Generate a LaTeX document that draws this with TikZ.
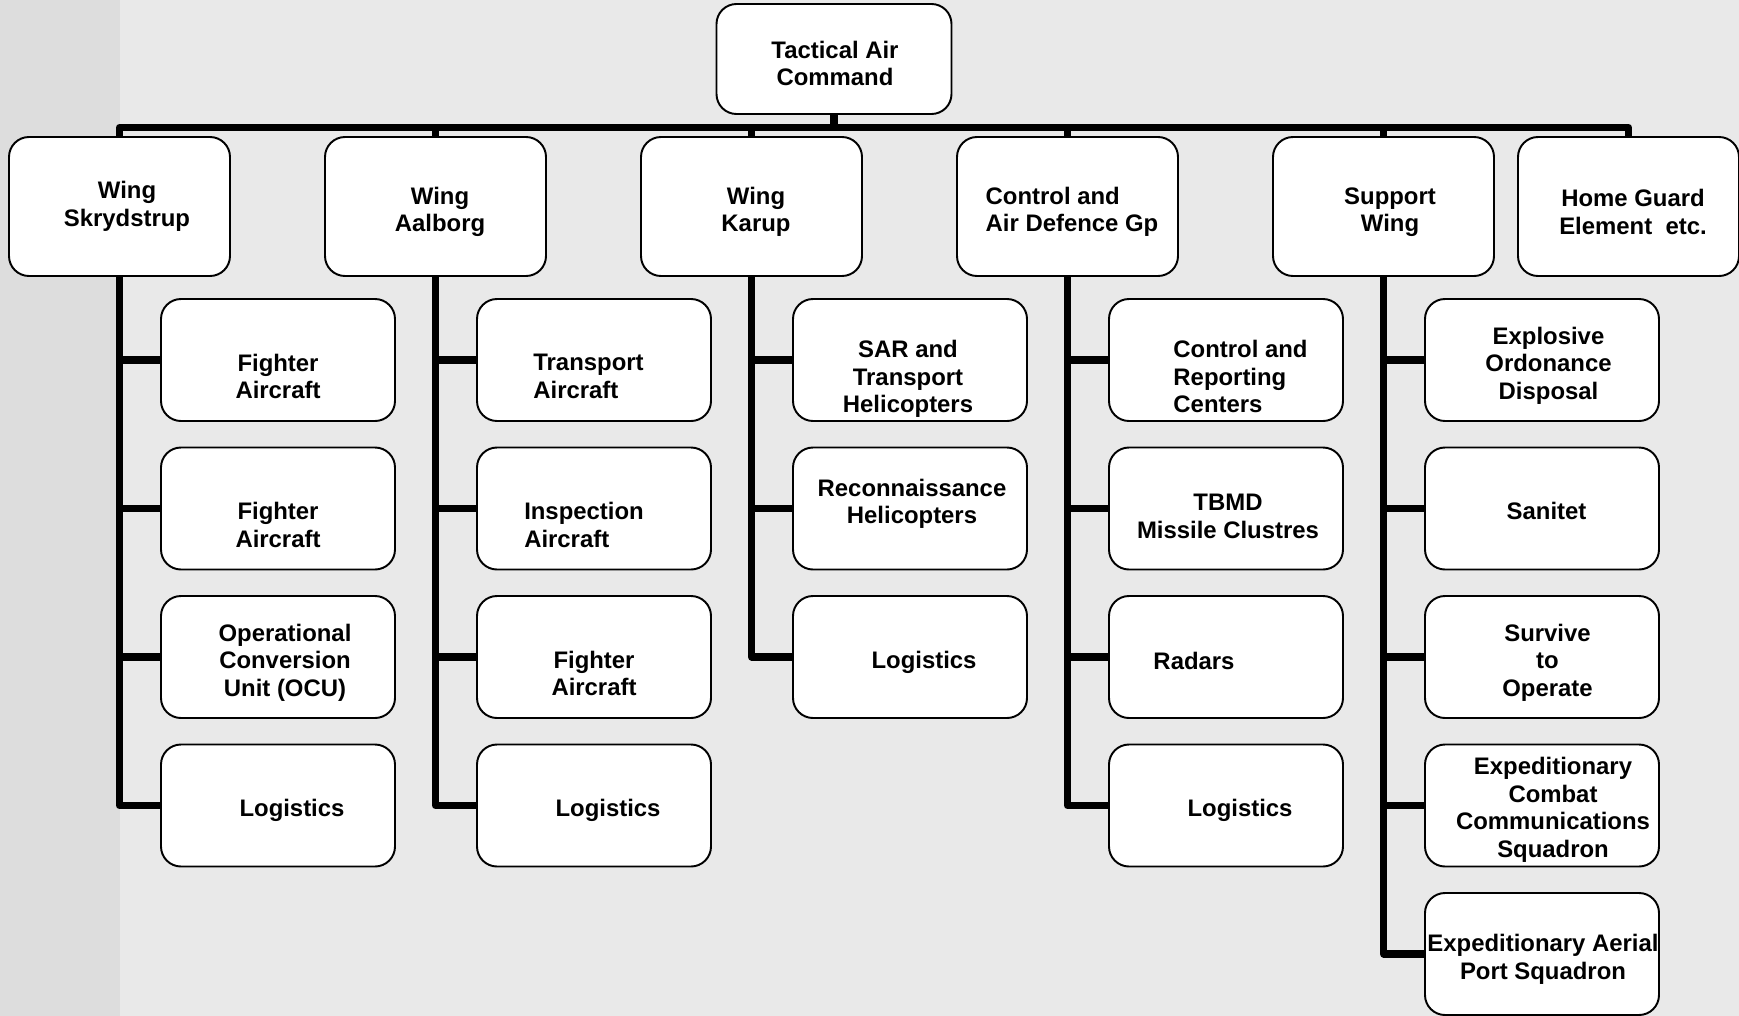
\documentclass[tikz,border=0pt]{standalone}
\usepackage{fontspec}
\setmainfont{Liberation Sans}
\usepackage{tikz}
\usetikzlibrary{positioning, calc}

\begin{document}
\begin{tikzpicture}[line join=round, font=\fontsize{13.6}{15.7}\selectfont\bfseries,
    unit/.style={draw, fill=white, line width=1.1pt, rounded corners=0.4cm},
    wing/.style={unit, minimum width=4.42cm, minimum height=2.78cm},
    leaf/.style={unit, minimum width=4.68cm, minimum height=2.44cm},
    tag/.style={align=center, inner sep=0pt},
    link/.style={line width=4pt}]
    % Define local colors
    \definecolor{bgl}{RGB}{233, 233, 233} \definecolor{bgd}{RGB}{221, 221, 221}

    % Page background with the darker strip on the left
    \useasboundingbox (0, 0) rectangle (34.78, -20.32);
    \fill[bgl] (0, 0) rectangle (34.78, -20.32);
    \fill[bgd] (0, 0) rectangle (2.4, -20.32);

    % LEVEL 1: Command
    \node[unit, minimum width=4.7cm, minimum height=2.2cm] (tac) at (16.68, -1.18) {};
    \node[tag] (ttac) at ($(tac)+(0.02, -0.09)$) {Tactical Air\\Command};

    % LEVEL 2: Wings (bus line from the command box)
    \foreach \i/\x/\al/\dx/\dy/\txt in {1/2.39/center/0.15/0/{Wing\\Skrydstrup}, 2/8.71/center/0.09/-0.11/{Wing\\Aalborg},
                                        3/15.03/center/0.09/-0.11/{Wing\\Karup}, 4/21.35/left/0.09/-0.11/{Control and\\Air Defence Gp},
                                        5/27.67/center/0.13/-0.11/{Support\\Wing}, 6/32.57/center/0.09/-0.11/{Home Guard\\Element~~etc.}} {
        \node[wing] (w\i) at (\x, -4.13) {};
        \node[tag, align/.expand once=\al] (tw\i) at ($(w\i)+(\dx, \dy)$) {\txt};
        \draw[link] (tac.south) -- ++(0, -0.25) -| (w\i.north);
    }

    % LEVEL 3: Units under Wing Skrydstrup
    \foreach \j/\al/\dx/\dy/\txt in {1/center/0/-0.33/{Fighter\\Aircraft}, 2/center/0/-0.33/{Fighter\\Aircraft},
                                     3/center/0.14/-0.11/{Operational\\Conversion\\Unit (OCU)}, 4/center/0.28/-0.09/{Logistics}} {
        \pgfmathsetmacro{\ypos}{-3.07-2.97*(\j-1)}
        \node[leaf] (u1\j) at ($(w1)+(3.17, \ypos)$) {};
        \node[tag, align/.expand once=\al] (t1\j) at ($(u1\j)+(\dx, \dy)$) {\txt};
        \draw[link] (w1.south) |- (u1\j.west);
    }

    % Units under Wing Aalborg
    \foreach \j/\al/\dx/\dy/\txt in {1/left/-0.11/-0.33/{Transport\\Aircraft}, 2/left/-0.2/-0.33/{Inspection\\Aircraft},
                                     3/center/0/-0.33/{Fighter\\Aircraft}, 4/center/0.28/-0.09/{Logistics}} {
        \pgfmathsetmacro{\ypos}{-3.07-2.97*(\j-1)}
        \node[leaf] (u2\j) at ($(w2)+(3.17, \ypos)$) {};
        \node[tag, align/.expand once=\al] (t2\j) at ($(u2\j)+(\dx, \dy)$) {\txt};
        \draw[link] (w2.south) |- (u2\j.west);
    }

    % Units under Wing Karup
    \foreach \j/\al/\dx/\dy/\txt in {1/center/-0.04/-0.38/{SAR and\\Transport\\Helicopters}, 2/center/0.04/0.09/{Reconnaissance\\Helicopters},
                                     3/center/0.28/-0.11/{Logistics}} {
        \pgfmathsetmacro{\ypos}{-3.07-2.97*(\j-1)}
        \node[leaf] (u3\j) at ($(w3)+(3.17, \ypos)$) {};
        \node[tag, align/.expand once=\al] (t3\j) at ($(u3\j)+(\dx, \dy)$) {\txt};
        \draw[link] (w3.south) |- (u3\j.west);
    }

    % Units under Control and Air Defence Gp
    \foreach \j/\al/\dx/\dy/\txt in {1/left/0.29/-0.33/{Control and\\Reporting\\Centers}, 2/center/0.04/-0.16/{TBMD\\Missile Clustres},
                                     3/center/-0.64/-0.07/{Radars}, 4/center/0.28/-0.09/{Logistics}} {
        \pgfmathsetmacro{\ypos}{-3.07-2.97*(\j-1)}
        \node[leaf] (u4\j) at ($(w4)+(3.17, \ypos)$) {};
        \node[tag, align/.expand once=\al] (t4\j) at ($(u4\j)+(\dx, \dy)$) {\txt};
        \draw[link] (w4.south) |- (u4\j.west);
    }

    % Units under Support Wing
    \foreach \j/\al/\dx/\dy/\txt in {1/center/0.13/-0.11/{Explosive\\Ordonance\\Disposal}, 2/center/0.09/-0.05/{Sanitet},
                                     3/center/0.11/-0.11/{Survive\\to\\Operate}, 4/center/0.22/-0.09/{Expeditionary\\Combat\\Communications\\Squadron},
                                     5/center/0.02/-0.11/{Expeditionary Aerial\\Port Squadron}} {
        \pgfmathsetmacro{\ypos}{-3.07-2.97*(\j-1)}
        \node[leaf] (u5\j) at ($(w5)+(3.17, \ypos)$) {};
        \node[tag, align/.expand once=\al] (t5\j) at ($(u5\j)+(\dx, \dy)$) {\txt};
        \draw[link] (w5.south) |- (u5\j.west);
    }

\end{tikzpicture}
\end{document}
